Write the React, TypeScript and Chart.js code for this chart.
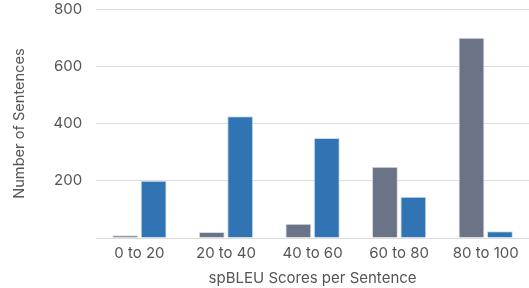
import React, { useEffect, useRef } from "react";
import { Chart, registerables } from "chart.js";

Chart.register(...registerables);

const categories = ["0 to 20", "20 to 40", "40 to 60", "60 to 80", "80 to 100"];
const grayValues = [10, 21, 50, 249, 700];
const blueValues = [200, 425, 349, 144, 24];
const yTicks = [0, 200, 400, 600, 800];

export default function App() {
  const ref = useRef<HTMLCanvasElement | null>(null);
  useEffect(() => {
    document.body.style.margin = "0";
    const ctx = ref.current!;
    const chart = new Chart(ctx, {
      type: "bar",
      data: {
        labels: categories,
        datasets: [
          {
            label: "A",
            data: grayValues,
            backgroundColor: "#6a7486",
            borderColor: "#d8dbe0",
            borderWidth: 1,
            barPercentage: 0.91,
            categoryPercentage: 0.657,
          },
          {
            label: "B",
            data: blueValues,
            backgroundColor: "#3174b4",
            borderColor: "#c9dbee",
            borderWidth: 1,
            barPercentage: 0.91,
            categoryPercentage: 0.657,
          },
        ],
      },
      options: {
        animation: false,
        responsive: false,
        maintainAspectRatio: false,
        layout: { padding: { top: 0, right: 0, bottom: 1, left: 0 } },
        plugins: { legend: { display: false }, tooltip: { enabled: false } },
        scales: {
          x: {
            grid: { display: false, drawTicks: false },
            border: { display: false },
            ticks: {
              color: "#555",
              font: { family: "Inter", size: 15 },
              padding: 6,
            },
            title: {
              display: true,
              text: "spBLEU Scores per Sentence",
              color: "#555",
              font: { family: "Inter", size: 15 },
              padding: { top: 1, bottom: 0 },
            },
          },
          y: {
            min: 0,
            max: 800,
            afterBuildTicks: (axis: any) => {
              axis.ticks = yTicks.map((v) => ({ value: v }));
            },
            grid: {
              color: "#dcdcdc",
              drawTicks: true,
              tickLength: 14,
              tickColor: "rgba(0,0,0,0)",
              lineWidth: 1,
            },
            border: { display: false },
            ticks: {
              color: "#555",
              font: { family: "Inter", size: 15 },
              padding: 0,
              callback: (v: any) => (v === 0 ? "" : String(v)),
            },
            title: {
              display: true,
              text: "Number of Sentences",
              color: "#555",
              font: { family: "Inter", size: 14.6 },
              padding: { top: 11, bottom: 25 },
            },
          },
        },
      },
    });
    return () => chart.destroy();
  }, []);
  return <canvas ref={ref} width={529} height={288} style={{ display: "block" }} />;
}
